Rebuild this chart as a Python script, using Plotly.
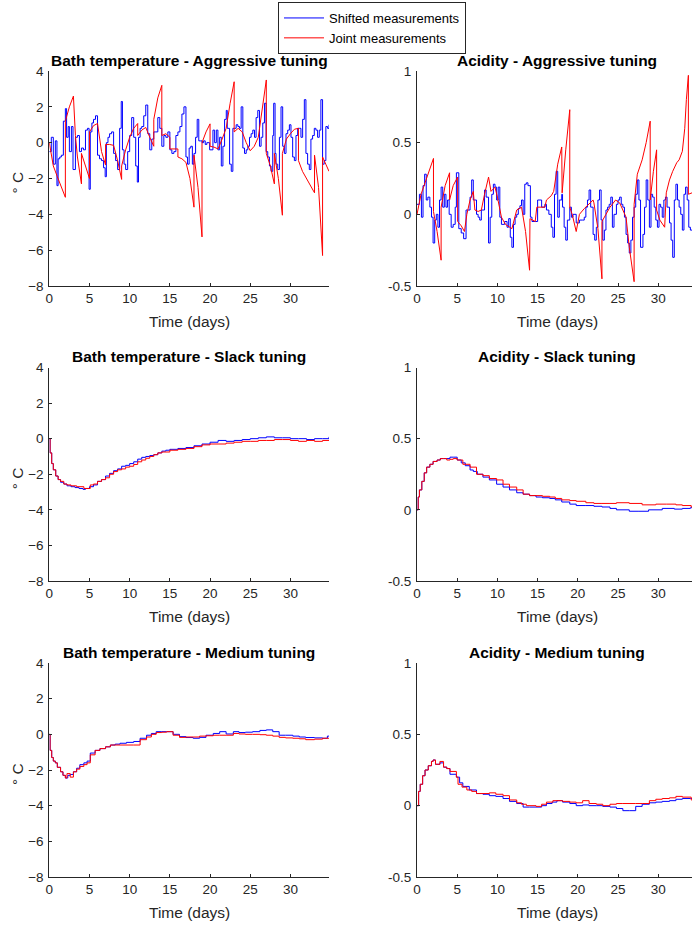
import plotly.graph_objects as go

# ---------------------------------------------------------------------------
# Data: (time in days, value) pairs for each tuning / measurement scheme
# ---------------------------------------------------------------------------

# Bath temperature deviation (deg C), aggressive tuning
bath_aggr_shifted = [
    (0, -0.5), (0.25, 0.3), (0.5, -1.2), (0.75, 0.1), (0.95, -2.4), (1.1, -0.9),
    (1.3, -0.8), (1.5, -0.7), (1.75, 1.2), (2.0, 1.9), (2.15, 0.3), (2.35, 0.9),
    (2.5, -0.5), (2.75, 0.9), (2.95, -1.5), (3.25, 0.3), (3.5, 0.4), (3.75, -0.5),
    (4.0, -0.3), (4.25, -0.4), (4.5, 0.7), (4.75, 0.8), (4.95, -2.6), (5.1, 0.6),
    (5.3, 1.1), (5.5, 1.3), (5.75, 1.5), (6.0, -0.7), (6.25, -0.9), (6.5, -1.0),
    (6.75, -1.4), (6.95, -1.9), (7.1, 0.0), (7.3, 0.3), (7.5, 0.5), (7.75, 0.6),
    (8.0, -0.6), (8.25, -1.0), (8.5, -1.5), (8.75, 0.8), (8.95, 2.3), (9.1, -0.4),
    (9.3, -1.2), (9.5, -1.5), (9.75, -0.5), (10.0, 0.4), (10.25, 1.4), (10.5, 0.3),
    (10.75, -1.3), (10.95, -2.2), (11.1, 0.3), (11.3, 0.8), (11.5, 0.9), (11.75, 1.5),
    (12.0, 2.1), (12.25, 0.5), (12.5, -0.4), (12.75, 0.2), (13.0, 0.6), (13.25, 0.6),
    (13.5, 1.4), (13.75, 0.8), (14.0, -0.2), (14.25, 0.4), (14.5, 0.3), (14.75, 0.6),
    (15.0, -0.4), (15.25, -0.6), (15.5, -0.5), (15.75, 0.4), (16.0, 0.6), (16.25, 0.9),
    (16.5, 1.6), (16.75, 2.0), (17.0, -0.8), (17.2, -1.2), (17.4, -0.3), (17.6, -0.2),
    (17.8, -1.2), (18.0, -0.6), (18.2, 0.3), (18.4, 1.3), (18.6, 0.1), (18.8, 0.1),
    (19.0, 0.0), (19.2, 0.1), (19.4, -0.1), (19.6, 0.0), (19.95, -0.4), (20.36, 0.7),
    (20.57, 0.0), (20.78, 0.7), (20.98, -0.4), (21.19, 0.3), (21.4, -1.3), (21.6, -0.2),
    (21.81, 1.3), (22.02, 1.8), (22.14, 0.8), (22.43, -1.2), (22.64, -1.6), (22.84, 0.8),
    (23.05, 0.8), (23.25, 1.0), (23.46, 0.9), (23.67, 0.8), (23.87, 2.0), (24.08, -0.3),
    (24.29, -0.6), (24.5, -0.4), (24.7, -0.2), (24.91, 0.3), (25.11, 0.5), (25.32, 0.7),
    (25.53, 0.3), (25.73, 1.4), (25.94, 1.8), (26.15, -0.2), (26.35, 0.3), (26.56, 1.1),
    (26.77, 2.2), (26.97, -0.5), (27.18, -0.8), (27.39, -1.3), (27.59, -1.6), (27.8, 0.4),
    (27.92, 2.2), (28.09, -0.6), (28.21, -1.2), (28.42, -1.5), (28.63, 0.3), (28.83, 2.0),
    (29.04, -0.2), (29.25, -0.6), (29.45, 0.5), (29.66, 0.7), (29.87, 1.0), (30.07, 0.3),
    (30.28, -0.8), (30.49, -1.0), (30.69, 0.4), (30.9, 0.8), (31.11, 0.8), (31.31, 0.3),
    (31.52, 1.3), (31.73, 2.4), (31.93, -0.6), (32.14, -1.2), (32.35, -1.5), (32.55, 0.2),
    (32.76, 0.4), (32.97, 0.8), (33.17, 0.7), (33.38, 0.3), (33.59, 0.7), (33.79, 2.4),
    (34.0, -1.2), (34.2, -1.0), (34.41, 0.9), (34.62, 0.8), (34.8, 1.0),
]
bath_aggr_joint = [
    (0, 0.0), (0.25, -0.8), (0.5, -1.3), (1.0, -1.9), (1.5, -2.5), (2.0, -3.05),
    (2.0, 1.2), (2.5, 2.0), (3.0, 2.6), (3.25, 0.4), (3.5, -0.8), (3.75, -1.7),
    (4.0, -2.3), (4.0, -0.6), (4.5, -1.3), (5.0, -2.0), (5.0, 0.6), (5.5, 0.95),
    (6.0, 1.07), (6.25, 0.2), (6.5, -0.5), (7.0, -1.25), (7.0, -0.1), (7.5, -0.1),
    (8.0, -0.15), (8.5, -1.0), (9.0, -2.05), (9.0, -1.3), (9.5, -0.4), (10.0, 0.3),
    (10.5, 0.8), (11.0, 1.07), (11.0, 0.4), (11.5, 0.7), (12.0, 0.85), (12.5, 0.3),
    (13.0, -0.2), (13.0, 1.3), (13.5, 2.5), (14.0, 3.2), (14.0, 0.4), (14.5, 0.5),
    (15.0, 0.3), (15.0, -0.35), (16.0, -0.35), (16.0, -0.8), (16.5, -0.9), (17.0, -1.1),
    (17.5, -2.0), (18.0, -3.6), (18.0, -0.7), (18.5, -2.5), (19.0, -5.26), (19.0, 0.0),
    (19.5, 0.6), (20.0, 1.05), (20.0, -0.2), (20.5, -0.25), (21.0, -0.35), (21.5, 0.2),
    (22.0, 0.8), (22.5, 2.2), (23.0, 3.4), (23.0, 0.6), (23.5, 0.8), (24.0, 0.6),
    (24.5, 0.0), (25.0, -0.45), (25.5, -0.2), (26.0, 0.3), (26.5, 2.0), (27.0, 3.5),
    (27.0, -0.6), (27.5, -1.3), (28.0, -2.3), (28.0, -0.6), (28.5, -2.0), (29.0, -4.05),
    (29.0, -0.6), (29.5, 0.2), (30.0, 0.5), (30.5, 0.75), (31.0, 0.8), (31.0, -1.0),
    (31.5, -1.6), (32.0, -2.0), (32.5, -2.4), (33.0, -2.8), (33.0, -0.7), (33.5, -2.5),
    (34.0, -6.3), (34.0, -0.8), (34.4, -1.2), (34.8, -1.6),
]

# Acidity deviation, aggressive tuning
acid_aggr_shifted = [
    (0, 0.07), (0.3, 0.14), (0.55, -0.02), (0.75, 0.2), (0.95, 0.28), (1.15, 0.1),
    (1.35, 0.12), (1.6, 0.05), (1.8, -0.02), (2.0, -0.2), (2.2, -0.04), (2.4, 0.0),
    (2.6, -0.09), (2.8, 0.1), (3.0, 0.19), (3.2, 0.05), (3.4, 0.14), (3.6, 0.05),
    (3.8, 0.1), (4.0, 0.0), (4.25, -0.09), (4.5, -0.07), (4.75, 0.05), (4.9, 0.29),
    (5.2, -0.1), (5.5, -0.13), (5.8, -0.17), (6.1, 0.03), (6.6, 0.12), (6.8, 0.24),
    (7.0, 0.1), (7.4, 0.0), (7.6, -0.02), (7.8, -0.04), (8.0, 0.03), (8.4, 0.17),
    (8.6, 0.12), (8.9, -0.2), (9.1, -0.02), (9.3, 0.14), (9.5, 0.21), (9.7, 0.19),
    (9.9, 0.1), (10.1, 0.19), (10.3, -0.02), (10.5, -0.07), (10.9, -0.05), (11.2, -0.09),
    (11.4, -0.03), (11.6, -0.16), (11.8, -0.23), (12.0, -0.07), (12.2, -0.02), (12.4, 0.0),
    (12.6, 0.04), (12.8, 0.06), (13.0, 0.1), (13.2, 0.0), (13.4, 0.21), (13.6, 0.22),
    (13.8, 0.2), (14.1, -0.02), (14.3, -0.05), (14.7, -0.05), (15.0, 0.1), (15.3, 0.1),
    (15.5, 0.05), (15.9, 0.07), (16.1, 0.03), (16.4, 0.0), (16.7, -0.09), (16.9, -0.16),
    (17.1, 0.14), (17.3, 0.3), (17.5, -0.02), (17.7, 0.1), (18.0, 0.14), (18.1, 0.05),
    (18.3, -0.09), (18.5, -0.18), (18.7, -0.04), (19.0, 0.05), (19.2, -0.02), (19.4, 0.0),
    (19.8, -0.06), (20.2, -0.04), (20.6, -0.04), (20.8, -0.02), (21.0, 0.05), (21.2, 0.1),
    (21.4, 0.17), (21.6, 0.05), (21.9, -0.14), (22.1, -0.18), (22.3, -0.09), (22.5, 0.1),
    (22.7, 0.17), (22.9, -0.04), (23.1, -0.18), (23.3, -0.11), (23.5, 0.03), (23.7, 0.05),
    (23.9, 0.07), (24.1, 0.12), (24.3, -0.09), (24.5, 0.0), (24.8, 0.07), (25.0, 0.1),
    (25.2, 0.12), (25.4, 0.07), (25.6, 0.05), (25.8, -0.02), (26.0, -0.14), (26.2, -0.2),
    (26.4, -0.27), (26.6, -0.18), (26.8, -0.02), (27.0, 0.05), (27.2, 0.14), (27.4, 0.24),
    (27.6, 0.1), (27.8, -0.23), (28.1, -0.14), (28.3, 0.05), (28.5, 0.24), (28.7, 0.1),
    (28.9, -0.09), (29.1, 0.14), (29.3, 0.12), (29.5, 0.05), (29.7, -0.04), (29.9, -0.09),
    (30.1, 0.07), (30.3, 0.05), (30.5, -0.02), (30.7, 0.1), (30.9, 0.12), (31.1, 0.05),
    (31.4, -0.06), (31.6, -0.18), (31.8, -0.3), (32.0, 0.1), (32.2, 0.21), (32.4, 0.1),
    (32.6, 0.05), (32.8, 0.0), (33.0, -0.11), (33.2, 0.14), (33.4, 0.19), (33.6, 0.1),
    (33.8, -0.09), (34.0, -0.11), (34.8, -0.1),
]
acid_aggr_joint = [
    (0, 0.0), (0.5, 0.14), (1.0, 0.22), (1.5, 0.3), (2.05, 0.39), (2.05, 0.02),
    (2.5, -0.12), (3.0, -0.32), (3.0, 0.05), (3.5, 0.2), (4.05, 0.29), (4.05, 0.1),
    (4.5, 0.2), (5.05, 0.26), (5.05, -0.05), (5.5, -0.08), (5.9, -0.12), (6.2, 0.0),
    (6.6, 0.1), (7.0, 0.16), (7.2, 0.03), (7.6, 0.02), (8.0, 0.03), (8.4, 0.14),
    (8.9, 0.26), (9.2, 0.16), (9.7, 0.19), (10.0, 0.12), (10.5, -0.02), (11.0, -0.07),
    (11.8, -0.1), (12.4, 0.03), (13.0, 0.05), (13.5, -0.12), (14.0, -0.39), (14.05, -0.03),
    (14.7, -0.05), (14.9, 0.05), (15.9, 0.05), (16.1, 0.1), (16.7, 0.13), (17.0, 0.16),
    (17.5, 0.35), (18.0, 0.47), (18.05, 0.15), (18.5, 0.45), (19.0, 0.73), (19.0, 0.05),
    (19.3, 0.0), (19.8, -0.12), (20.2, 0.0), (20.8, 0.04), (21.3, 0.07), (21.9, 0.1),
    (22.0, 0.08), (22.5, -0.1), (23.0, -0.45), (23.0, -0.05), (23.5, 0.0), (24.0, 0.05),
    (24.7, 0.1), (25.2, 0.08), (25.6, 0.03), (26.0, -0.02), (26.4, -0.23), (27.0, -0.47),
    (27.0, 0.07), (27.4, 0.28), (28.0, 0.38), (28.5, 0.5), (29.0, 0.65), (29.0, 0.1),
    (29.4, 0.3), (29.8, 0.45), (29.8, 0.03), (30.2, -0.04), (30.8, -0.09), (31.0, 0.15),
    (31.4, 0.24), (31.8, 0.3), (32.3, 0.36), (32.6, 0.38), (33.0, 0.44), (33.3, 0.6),
    (33.5, 0.8), (33.75, 0.97), (33.75, 0.14), (34.2, 0.15), (34.8, 0.15),
]

# Bath temperature deviation (deg C), slack tuning
bath_slack_shifted = [
    (0, 0.0), (0.1, -0.8), (0.3, -1.4), (0.5, -1.75), (0.8, -2.1), (1.1, -2.3),
    (1.4, -2.45), (1.8, -2.55), (2.2, -2.65), (2.7, -2.7), (3.2, -2.75), (3.7, -2.8),
    (4.2, -2.85), (4.5, -2.8), (5.0, -2.7), (5.5, -2.6), (6.0, -2.4), (6.5, -2.3),
    (7.0, -2.1), (7.5, -1.95), (8.0, -1.8), (8.5, -1.7), (9.0, -1.55), (9.5, -1.5),
    (10.0, -1.4), (10.5, -1.3), (11.0, -1.15), (11.5, -1.05), (12.0, -1.0), (12.5, -0.95),
    (13.0, -0.9), (13.5, -0.8), (14.0, -0.7), (14.5, -0.65), (15.0, -0.6), (16.0, -0.55),
    (17.0, -0.5), (18.0, -0.4), (19.0, -0.3), (20.0, -0.2), (21.0, -0.1), (22.0, -0.15),
    (23.0, -0.1), (24.0, -0.05), (25.0, 0.0), (26.0, 0.05), (27.0, 0.1), (28.0, 0.05),
    (29.0, 0.05), (30.0, 0.0), (31.0, 0.0), (32.0, -0.05), (33.0, 0.0), (34.0, 0.0),
    (34.8, 0.1),
]
bath_slack_joint = [
    (0, 0.0), (0.1, -0.8), (0.3, -1.4), (0.5, -1.75), (0.8, -2.1), (1.1, -2.3),
    (1.4, -2.4), (1.8, -2.55), (2.2, -2.6), (2.7, -2.65), (3.4, -2.7), (4.3, -2.8),
    (5.1, -2.6), (5.5, -2.55), (6.0, -2.4), (6.5, -2.3), (7.0, -2.2), (7.5, -2.0),
    (8.0, -1.85), (8.5, -1.75), (9.0, -1.7), (9.5, -1.6), (10.0, -1.55), (10.5, -1.45),
    (11.0, -1.3), (11.5, -1.2), (12.0, -1.1), (12.5, -1.0), (13.0, -0.9), (13.5, -0.8),
    (14.0, -0.75), (15.0, -0.65), (16.0, -0.6), (17.0, -0.55), (18.0, -0.45), (19.0, -0.35),
    (20.0, -0.3), (21.0, -0.3), (22.0, -0.25), (23.0, -0.2), (24.0, -0.15), (25.0, -0.15),
    (26.0, -0.1), (27.0, -0.1), (28.0, -0.05), (29.0, -0.05), (30.0, -0.1), (31.0, -0.15),
    (32.0, -0.1), (33.0, -0.15), (34.0, -0.1), (34.8, -0.1),
]

# Acidity deviation, slack tuning
acid_slack_shifted = [
    (0, 0.0), (0.15, 0.09), (0.3, 0.14), (0.6, 0.2), (0.9, 0.26), (1.2, 0.3),
    (1.6, 0.32), (2.0, 0.34), (2.5, 0.35), (2.9, 0.36), (3.3, 0.36), (3.7, 0.36),
    (4.1, 0.37), (4.5, 0.37), (5.0, 0.35), (5.5, 0.33), (6.0, 0.31), (6.6, 0.28),
    (7.0, 0.27), (7.5, 0.25), (8.2, 0.23), (9.0, 0.21), (9.9, 0.18), (10.7, 0.16),
    (11.5, 0.14), (12.4, 0.12), (13.2, 0.11), (14.0, 0.1), (14.8, 0.09), (15.6, 0.085),
    (16.5, 0.08), (17.2, 0.07), (18.0, 0.055), (19.0, 0.04), (19.8, 0.03), (21.0, 0.03),
    (22.0, 0.025), (23.0, 0.02), (24.0, 0.01), (24.8, 0.0), (26.4, -0.01), (27.6, -0.01),
    (28.8, 0.0), (30.5, 0.01), (32.0, 0.005), (33.0, 0.01), (34.0, 0.015), (34.8, 0.015),
]
acid_slack_joint = [
    (0, 0.0), (0.15, 0.09), (0.3, 0.14), (0.6, 0.2), (0.9, 0.26), (1.2, 0.3),
    (1.6, 0.32), (2.0, 0.34), (2.5, 0.35), (2.9, 0.36), (3.3, 0.36), (3.7, 0.35),
    (4.1, 0.355), (4.5, 0.36), (5.0, 0.35), (5.7, 0.32), (6.6, 0.3), (7.4, 0.25),
    (8.2, 0.24), (9.0, 0.22), (9.9, 0.21), (10.7, 0.18), (11.5, 0.16), (12.4, 0.14),
    (13.2, 0.11), (14.0, 0.1), (14.8, 0.1), (15.6, 0.095), (16.5, 0.09), (17.2, 0.08),
    (18.0, 0.07), (19.0, 0.065), (19.8, 0.06), (21.0, 0.05), (22.0, 0.045), (23.0, 0.045),
    (24.0, 0.045), (24.8, 0.05), (26.4, 0.045), (28.0, 0.035), (29.7, 0.04), (31.0, 0.04),
    (32.2, 0.035), (33.0, 0.03), (34.1, 0.02), (34.8, 0.02),
]

# Bath temperature deviation (deg C), medium tuning
bath_medium_shifted = [
    (0, 0.0), (0.1, -0.9), (0.3, -1.3), (0.5, -1.5), (0.75, -1.6), (1.0, -1.85),
    (1.4, -2.1), (1.7, -2.3), (2.0, -2.45), (2.3, -2.3), (2.6, -2.25), (3.0, -2.1),
    (3.4, -1.9), (3.8, -1.7), (4.3, -1.6), (4.7, -1.5), (5.1, -1.05), (5.7, -0.9),
    (6.3, -0.8), (7.0, -0.7), (7.6, -0.6), (8.2, -0.55), (8.8, -0.5), (9.6, -0.45),
    (10.5, -0.4), (11.3, -0.22), (12.1, -0.05), (12.7, 0.05), (13.3, 0.15), (14.0, 0.15),
    (14.6, 0.15), (15.4, 0.0), (16.2, -0.13), (17.0, -0.18), (17.9, -0.22), (18.7, -0.17),
    (19.5, -0.05), (20.4, 0.05), (21.2, 0.15), (22.0, 0.02), (22.9, 0.15), (23.6, 0.1),
    (24.4, 0.12), (25.3, 0.15), (26.2, 0.22), (27.0, 0.25), (27.8, 0.15), (28.6, -0.05),
    (29.4, -0.05), (30.3, -0.1), (31.1, -0.15), (31.9, -0.18), (33.0, -0.2), (34.0, -0.22),
    (34.6, -0.1), (34.8, -0.1),
]
bath_medium_joint = [
    (0, 0.0), (0.1, -0.9), (0.3, -1.3), (0.5, -1.5), (0.75, -1.6), (1.0, -1.85),
    (1.4, -2.1), (1.7, -2.3), (2.0, -2.45), (2.2, -2.2), (2.6, -2.4), (3.0, -2.1),
    (3.4, -1.95), (3.8, -1.8), (4.3, -1.7), (4.7, -1.6), (5.1, -1.15), (5.7, -0.9),
    (6.3, -0.8), (7.0, -0.7), (7.6, -0.6), (8.8, -0.6), (10.5, -0.6), (11.3, -0.3),
    (12.1, -0.15), (12.7, 0.0), (13.3, 0.1), (14.0, 0.12), (14.6, 0.15), (15.4, -0.05),
    (16.2, -0.17), (17.0, -0.15), (17.9, -0.15), (18.7, -0.1), (19.5, -0.08), (20.4, -0.05),
    (21.2, -0.05), (22.0, -0.05), (22.9, 0.05), (23.6, 0.02), (24.4, 0.0), (25.3, 0.0),
    (26.2, -0.02), (27.0, -0.05), (27.8, -0.1), (28.6, -0.17), (29.4, -0.2), (30.3, -0.22),
    (31.1, -0.25), (31.9, -0.3), (33.0, -0.27), (34.0, -0.22), (34.8, -0.22),
]

# Acidity deviation, medium tuning
acid_medium_shifted = [
    (0, 0.0), (0.2, 0.1), (0.4, 0.15), (0.7, 0.21), (1.0, 0.25), (1.4, 0.28),
    (1.8, 0.31), (2.0, 0.32), (2.3, 0.29), (2.85, 0.3), (3.3, 0.27), (3.7, 0.26),
    (4.1, 0.22), (4.9, 0.2), (5.3, 0.16), (5.7, 0.135), (6.5, 0.11), (7.4, 0.085),
    (8.2, 0.08), (9.0, 0.07), (9.8, 0.065), (10.7, 0.05), (11.5, 0.03), (12.4, 0.015),
    (13.2, -0.01), (14.0, -0.01), (14.8, -0.01), (15.5, 0.0), (16.1, 0.015), (16.8, 0.025),
    (17.4, 0.035), (18.1, 0.025), (19.0, 0.015), (19.8, 0.0), (20.6, 0.005), (21.4, 0.0),
    (22.3, 0.0), (23.1, -0.005), (24.0, -0.01), (24.8, -0.02), (25.6, -0.035), (26.4, -0.035),
    (27.2, -0.005), (28.0, 0.01), (28.9, 0.02), (29.7, 0.025), (30.5, 0.03), (31.4, 0.035),
    (32.2, 0.045), (33.0, 0.05), (34.0, 0.05), (34.8, 0.05),
]
acid_medium_joint = [
    (0, 0.0), (0.2, 0.1), (0.4, 0.15), (0.7, 0.21), (1.0, 0.25), (1.4, 0.28),
    (1.8, 0.31), (2.0, 0.32), (2.3, 0.29), (2.85, 0.31), (3.3, 0.27), (3.7, 0.26),
    (4.1, 0.24), (4.9, 0.2), (5.1, 0.15), (5.6, 0.13), (6.2, 0.11), (6.8, 0.1),
    (7.4, 0.085), (8.2, 0.085), (9.0, 0.09), (9.8, 0.08), (10.7, 0.07), (11.5, 0.04),
    (12.4, 0.02), (13.0, 0.01), (13.6, 0.0), (14.8, -0.005), (15.5, 0.01), (16.1, 0.025),
    (16.9, 0.035), (18.1, 0.03), (19.0, 0.025), (19.8, 0.02), (20.6, 0.035), (21.4, 0.015),
    (22.3, 0.01), (23.1, 0.0), (24.0, 0.01), (24.8, 0.015), (25.6, 0.015), (27.2, 0.015),
    (28.0, 0.015), (28.9, 0.035), (29.7, 0.045), (30.5, 0.05), (31.4, 0.055), (32.2, 0.065),
    (33.0, 0.06), (34.1, 0.04), (34.8, 0.04),
]

# Panel titles and axis ticks
panel_titles = [
    "Bath temperature - Aggressive tuning", "Acidity - Aggressive tuning",
    "Bath temperature - Slack tuning", "Acidity - Slack tuning",
    "Bath temperature - Medium tuning", "Acidity - Medium tuning",
]
time_ticks = [0, 5, 10, 15, 20, 25, 30]
bath_ticks = [-8, -6, -4, -2, 0, 2, 4]
acid_ticks = [-0.5, 0, 0.5, 1]
acid_tick_text = ["-0.5", "0", "0.5", "1"]
series_names = ["Shifted measurements", "Joint measurements"]

# ---------------------------------------------------------------------------
# Layout geometry (fractions of the 692 x 925 page)
# ---------------------------------------------------------------------------
W, H = 692, 925
col_px = [(49.3, 329.0), (417.0, 692.0)]
row_px = [(71.0, 286.0), (367.5, 581.0), (663.0, 877.0)]
col_xrange = [[0, 34.8], [0, 34.2]]
title_cx = [189.0, 557.0]

FONT = "Liberation Sans, Arial, Helvetica, sans-serif"
AX = "#262626"
BLUE = "#0000ff"
RED = "#ff0000"

panels = [
    (bath_aggr_shifted, bath_aggr_joint, "bath"),
    (acid_aggr_shifted, acid_aggr_joint, "acid"),
    (bath_slack_shifted, bath_slack_joint, "bath"),
    (acid_slack_shifted, acid_slack_joint, "acid"),
    (bath_medium_shifted, bath_medium_joint, "bath"),
    (acid_medium_shifted, acid_medium_joint, "acid"),
]

fig = go.Figure()
annotations = []
layout_axes = {}

for i, (shifted, joint, kind) in enumerate(panels):
    row, col = divmod(i, 2)
    n = i + 1
    xname = "x" if n == 1 else f"x{n}"
    yname = "y" if n == 1 else f"y{n}"
    aggressive = row == 0

    ts, vs = zip(*shifted)
    tj, vj = zip(*joint)
    fig.add_trace(go.Scatter(
        x=ts, y=vs, mode="lines", name=series_names[0],
        line=dict(color=BLUE, width=1, shape="hv"),
        xaxis=xname, yaxis=yname, showlegend=(i == 0), legendrank=1,
    ))
    fig.add_trace(go.Scatter(
        x=tj, y=vj, mode="lines", name=series_names[1],
        line=dict(color=RED, width=1, shape="linear" if aggressive else "hv"),
        xaxis=xname, yaxis=yname, showlegend=(i == 0), legendrank=2,
    ))

    x0, x1 = col_px[col]
    y0, y1 = row_px[row]
    xkey = "xaxis" if n == 1 else f"xaxis{n}"
    ykey = "yaxis" if n == 1 else f"yaxis{n}"
    common = dict(
        showline=True, linecolor=AX, linewidth=1, mirror=False,
        ticks="inside", ticklen=3, tickwidth=1, tickcolor=AX,
        showgrid=False, zeroline=False, automargin=False,
        tickfont=dict(family=FONT, size=13.5, color=AX),
    )
    layout_axes[xkey] = dict(
        common, domain=[x0 / W, x1 / W], range=col_xrange[col],
        tickvals=time_ticks, anchor=yname,
    )
    if kind == "bath":
        yax = dict(common, range=[-8, 4], tickvals=bath_ticks)
    else:
        yax = dict(common, range=[-0.5, 1], tickvals=acid_ticks, ticktext=acid_tick_text)
    layout_axes[ykey] = dict(yax, domain=[1 - y1 / H, 1 - y0 / H], anchor=xname,
                             ticklabelstandoff=2)

    # Panel title
    annotations.append(dict(
        text=f"<b>{panel_titles[i]}</b>", xref="paper", yref="paper",
        x=title_cx[col] / W, y=1 - (y0 - 11) / H, xanchor="center", yanchor="middle",
        showarrow=False, font=dict(family=FONT, size=15.5, color="#000000"),
    ))
    # x-axis label
    annotations.append(dict(
        text="Time (days)", xref="paper", yref="paper",
        x=title_cx[col] / W, y=1 - (y1 + 35.5) / H, xanchor="center", yanchor="middle",
        showarrow=False, font=dict(family=FONT, size=15.5, color=AX),
    ))
    # y-axis label on the temperature panels
    if kind == "bath":
        annotations.append(dict(
            text="° C", xref="paper", yref="paper", textangle=-90,
            x=17 / W, y=1 - ((y0 + y1) / 2 + 4) / H, xanchor="center", yanchor="middle",
            showarrow=False, font=dict(family=FONT, size=15.5, color=AX),
        ))

fig.update_layout(
    template="none",
    width=W, height=H, autosize=False,
    margin=dict(l=0, r=0, t=0, b=0, pad=0, autoexpand=False),
    paper_bgcolor="white", plot_bgcolor="white",
    font=dict(family=FONT, color=AX),
    annotations=annotations,
    legend=dict(
        x=278 / W, y=1 - 2 / H, xanchor="left", yanchor="top",
        bgcolor="white", bordercolor=AX, borderwidth=1,
        font=dict(family=FONT, size=13, color="#000000"),
        tracegroupgap=0, itemwidth=40,
    ),
    **layout_axes,
)

fig.write_html("out.html")
